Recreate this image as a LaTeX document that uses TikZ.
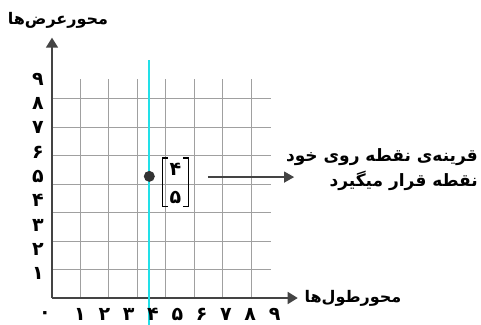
\documentclass[tikz,border=0pt]{standalone}
\usepackage{fontspec}
\setmainfont{DejaVu Sans}
\newfontfamily\fa[Script=Arabic,BoldFont={DejaVu Sans Bold}]{DejaVu Sans}
\TeXXeTstate=1
\usetikzlibrary{arrows.meta}
\definecolor{gridgray}{HTML}{A0A0A0}
\definecolor{axisgray}{HTML}{444444}
\definecolor{mycyan}{HTML}{22E0E8}
\tikzset{
  gridlines/.style={draw=gridgray, line width=1pt},
  axisline/.style={draw=axisgray, line width=1.6pt, -{Triangle[length=10pt,width=12pt,fill=axisgray]}},
  digit/.style={font=\fa\bfseries\fontsize{19}{22}\selectfont, inner sep=0pt, text=black},
  label/.style={font=\fa\bfseries\fontsize{17}{25}\selectfont, inner sep=0pt, text=black, align=right},
  axislabel/.style={font=\fa\bfseries\fontsize{16}{20}\selectfont, inner sep=0pt, text=black},
  pointer/.style={draw=axisgray, line width=1.3pt, -{Triangle[length=10pt,width=11pt,fill=axisgray]}},
  bracket/.style={draw=black, line width=1.4pt},
}
\begin{document}
\begin{tikzpicture}[x=1pt,y=-1pt]
\useasboundingbox (0,0) rectangle (481,324);
\fill[white] (0,0) rectangle (481,324);
\begin{scope}[shift={(52,298)}, x=24.33pt, y=24.33pt]
  \draw[gridlines] (0,0) grid (9,9);
  \coordinate (O) at (0,0);
  \coordinate (xend) at (10.1,0);
  \coordinate (yend) at (0,10.7);
  \draw[axisline] (O) -- (xend);
  \draw[axisline] (O) -- (yend);
  \coordinate (ctop) at (4,9.78);
  \coordinate (cbot) at (4,-1.1);
  \draw[mycyan, line width=2.2pt] (ctop) -- (cbot);
  \node[circle, fill=black!80, inner sep=0pt, minimum size=11pt] (P) at (4,5) {};
  % y digits
  \foreach \k/\d in {1/۱,2/۲,3/۳,4/۴,5/۵,6/۶,7/۷,8/۸,9/۹}
    \node[digit] (y\k) at (-0.575,\k) {\d};
  % x digits
  \node[digit] (x0) at (-0.29,-0.68) {۰};
  \foreach \k/\d in {1/۱,2/۲,3/۳,4/۴,5/۵,6/۶,7/۷,8/۸,9/۹}
    \node[digit] (x\k) at (\k+0.15,-0.68) {\d};
  % vector
  \node[digit] (v1) at (5.07,5.27) {۴};
  \node[digit] (v2) at (5.07,4.12) {۵};
  \coordinate (bl) at (4.55,5.75);
  \coordinate (bl2) at (4.55,3.77);
  \coordinate (br) at (5.6,5.75);
  \coordinate (br2) at (5.6,3.77);
  \draw[bracket] ([xshift=5pt]bl) -- (bl) -- (bl2) -- ([xshift=5pt]bl2);
  \draw[bracket] ([xshift=-5pt]br) -- (br) -- (br2) -- ([xshift=-5pt]br2);
  \coordinate (as) at (6.41,4.97);
  \coordinate (ae) at (9.95,4.97);
  \draw[pointer] (as) -- (ae);
\end{scope}
\node[label, anchor=east] (txt) at (478,170) {\beginR قرینه‌ی نقطه روی خود\endR\\\beginR نقطه قرار میگیرد\endR};
\node[axislabel] (ylab) at (58,20) {\beginR محورعرض‌ها\endR};
\node[axislabel] (xlab) at (353,298) {\beginR محورطول‌ها\endR};
\end{tikzpicture}
\end{document}
